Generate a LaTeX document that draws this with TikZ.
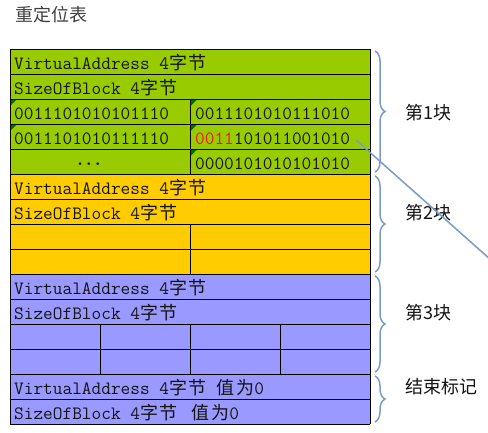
\documentclass[tikz,border=0pt]{standalone}
\usepackage{fontspec}
\newfontfamily\cjk{Noto Sans CJK SC}
\newfontfamily\cjkw{Noto Sans CJK SC}[LetterSpace=10]
\usetikzlibrary{decorations.pathreplacing}
\definecolor{gr}{RGB}{153,204,0}
\definecolor{ye}{RGB}{255,204,0}
\definecolor{bu}{RGB}{153,153,255}
\definecolor{flagg}{RGB}{0,110,0}
\definecolor{bl}{RGB}{122,156,198}
\definecolor{txt}{RGB}{20,20,20}
\definecolor{rd}{RGB}{240,20,20}
\newcommand{\mt}{\ttfamily\fontsize{18.8}{19}\selectfont}
\newcommand{\zh}[1]{{\cjkw\fontsize{18}{18}\selectfont #1}}
\begin{document}
\begin{tikzpicture}[x=1pt,y=-1pt,
  cell/.style={anchor=base west, inner sep=0pt, text=txt, font=\mt},
  lbl/.style={anchor=west, inner sep=0pt, text=txt, font=\cjk\fontsize{18}{18}\selectfont},
  brc/.style={draw=bl, line width=1.5pt, decorate, decoration={brace, amplitude=10pt}},
  grid/.style={draw=black, line width=0.9pt},
  flag/.style={fill=flagg}]
\useasboundingbox (0,0) rectangle (488,432);
% title
\node[lbl, text=black!75] (title) at (15,15) {重定位表};
% fills
\fill[gr] (10,49) rectangle (370,174);
\fill[ye] (10,174) rectangle (370,274);
\fill[bu] (10,274) rectangle (370,424);
% flags
\foreach \x/\y in {10/99,10/124,190.5/99,190.5/124,190.5/149}
  \fill[flag] (\x,\y) -- ++(7,0) -- ++(-7,7) -- cycle;
% horizontal lines
\foreach \k in {0,...,15}
  \draw[grid] (10,{49+25*\k}) -- (370,{49+25*\k});
% outer verticals
\draw[grid] (10,49) -- (10,424);
\draw[grid] (370,49) -- (370,424);
% inner verticals
\draw[grid] (190.5,99) -- (190.5,174);
\draw[grid] (190.5,224) -- (190.5,274);
\foreach \x in {100,190.5,280}
  \draw[grid] (\x,324) -- (\x,374);
% texts block 1
\node[cell] (va1) at (14,69) {VirtualAddress 4\zh{字节}};
\node[cell] (sb1) at (14,94) {SizeOfBlock 4\zh{字节}};
\node[cell] (e11) at (14,119) {0011101010101110};
\node[cell] (e12) at (195,119) {0011101010111010};
\node[cell] (e21) at (14,144) {0011101010111110};
\node[cell] (e22) at (195,144) {{\color{rd}0011}101011001010};
\node[anchor=center, inner sep=0pt, text=txt, font=\fontsize{17}{17}\selectfont\boldmath] (dots) at (89,164) {$\cdots$};
\node[cell] (e32) at (195,169) {0000101010101010};
% block 2
\node[cell] (va2) at (14,194) {VirtualAddress 4\zh{字节}};
\node[cell] (sb2) at (14,219) {SizeOfBlock 4\zh{字节}};
% block 3
\node[cell] (va3) at (14,294) {VirtualAddress 4\zh{字节}};
\node[cell] (sb3) at (14,319) {SizeOfBlock 4\zh{字节}};
% end
\node[cell] (va4) at (14,394) {VirtualAddress 4\zh{字节} \zh{值为}0};
\node[cell] (sb4) at (14,419) {SizeOfBlock 4\zh{字节}\hspace{4pt} \zh{值为}0};
% braces
\draw[brc] (375,51) -- (375,172);
\draw[brc] (375,176) -- (375,272);
\draw[brc] (375,276) -- (375,372);
\draw[brc] (375,376) -- (375,422);
% labels
\node[lbl] (b1) at (405,113) {第1块};
\node[lbl] (b2) at (405,213) {第2块};
\node[lbl] (b3) at (405,313) {第3块};
\node[lbl] (b4) at (405,387) {结束标记};
% line
\coordinate (ls) at (356,140);
\coordinate (le) at (500,268);
\draw[bl, line width=1.5pt] (ls) -- (le);
\end{tikzpicture}
\end{document}
